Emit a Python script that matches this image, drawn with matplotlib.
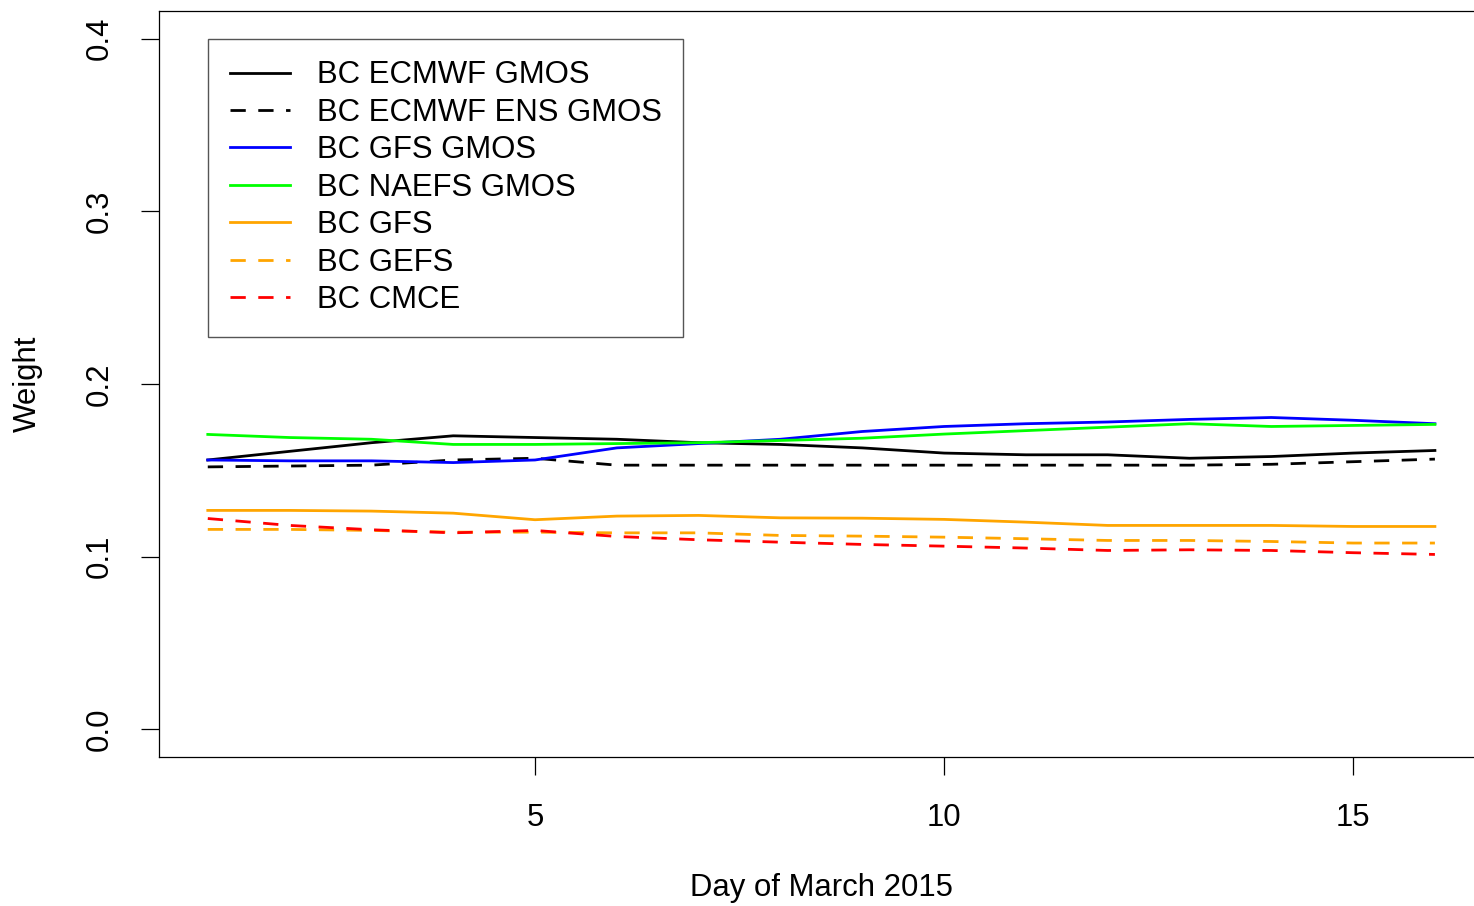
import numpy as np
import matplotlib
matplotlib.use("Agg")
import matplotlib.pyplot as plt

plt.rcParams['font.family'] = ['Liberation Sans', 'DejaVu Sans']

days = np.arange(1, 17)

ecmwf_gmos = [0.156, 0.161, 0.166, 0.170, 0.169, 0.168, 0.166, 0.165, 0.163, 0.160, 0.159, 0.159, 0.157, 0.158, 0.160, 0.1615]
ecmwf_ens_gmos = [0.152, 0.1525, 0.153, 0.156, 0.157, 0.153, 0.153, 0.153, 0.153, 0.153, 0.153, 0.153, 0.153, 0.1535, 0.155, 0.1565]
gfs_gmos = [0.156, 0.1555, 0.1555, 0.1545, 0.156, 0.163, 0.1655, 0.168, 0.1725, 0.1754, 0.177, 0.178, 0.1795, 0.1806, 0.179, 0.177]
naefs_gmos = [0.1708, 0.169, 0.168, 0.165, 0.165, 0.1655, 0.166, 0.1673, 0.1686, 0.171, 0.173, 0.175, 0.177, 0.1754, 0.176, 0.1766]
gfs = [0.1268, 0.1268, 0.1264, 0.1252, 0.1214, 0.1235, 0.1239, 0.1225, 0.1223, 0.1216, 0.120, 0.1181, 0.1181, 0.1181, 0.1175, 0.1175]
gefs = [0.1158, 0.1158, 0.1152, 0.1142, 0.1142, 0.1138, 0.1138, 0.1123, 0.1119, 0.1113, 0.1104, 0.1094, 0.1094, 0.1088, 0.1079, 0.1079]
cmce = [0.1221, 0.1181, 0.1156, 0.1138, 0.1152, 0.1117, 0.1098, 0.1084, 0.1071, 0.1061, 0.105, 0.1036, 0.104, 0.1036, 0.1023, 0.1013]

labels = ["BC ECMWF GMOS", "BC ECMWF ENS GMOS", "BC GFS GMOS", "BC NAEFS GMOS",
          "BC GFS", "BC GEFS", "BC CMCE"]
colors = ["black", "black", "#0000FF", "#00FF00", "#FFA500", "#FFA500", "#FF0000"]
dashed = [False, True, False, False, False, True, True]
series = [ecmwf_gmos, ecmwf_ens_gmos, gfs_gmos, naefs_gmos, gfs, gefs, cmce]

fig = plt.figure(figsize=(14.74, 9.06), dpi=100)
ax = fig.add_axes([158.7/1474, 1-757/906, (1484-158.7)/1474, (757-11)/906])

for s, lab, c, d in zip(series, labels, colors, dashed):
    if d:
        ax.plot(days, s, color=c, lw=2.0, label=lab, dashes=(5.5, 4.5))
    else:
        ax.plot(days, s, color=c, lw=2.0, label=lab)

ax.set_xlim(0.4, 16.6)
ax.set_ylim(-0.016, 0.416)
ax.set_xticks([5, 10, 15])
ax.set_yticks([0.0, 0.1, 0.2, 0.3, 0.4])
ax.set_yticklabels(["0.0", "0.1", "0.2", "0.3", "0.4"], rotation=90, va='center')
ax.tick_params(axis='both', length=13, width=0.9, labelsize=22.4, direction='out')
ax.tick_params(axis='x', pad=20)
ax.tick_params(axis='y', pad=19)
for sp in ax.spines.values():
    sp.set_linewidth(0.9)

ax.text(-0.0988, 0.5, "Weight", rotation=90, fontsize=22.4, ha='center', va='center',
        transform=ax.transAxes)
ax.text(0.5, -0.1756, "Day of March 2015", fontsize=22.4, ha='center', va='center',
        transform=ax.transAxes)

leg = ax.legend(loc='upper left', bbox_to_anchor=(1.0, 0.4), bbox_transform=ax.transData,
                fontsize=22.4, frameon=True, fancybox=False, framealpha=1,
                edgecolor='#555555', borderpad=0.7, labelspacing=0.24,
                handlelength=1.94, handletextpad=0.86, borderaxespad=0)
leg.get_frame().set_linewidth(1.0)

fig.savefig("out.png", dpi=100)
